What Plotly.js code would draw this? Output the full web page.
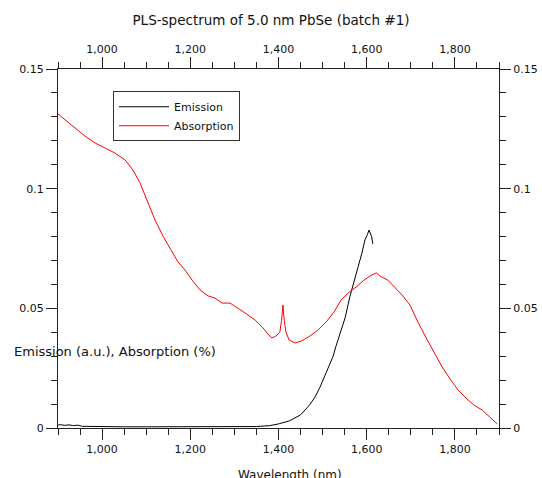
<!DOCTYPE html>
<html>
<head>
<meta charset="utf-8">
<script src="https://cdn.plot.ly/plotly-3.0.1.min.js"></script>
<style>html,body{margin:0;padding:0;background:#fff;}#chart{width:542px;height:478px;}</style>
</head>
<body>
<div id="chart"></div>
<script>
// Emission (a.u.) vs wavelength (nm)
const emissionWavelength = [900, 905, 915, 925, 935, 945, 955, 1000, 1050, 1100, 1150, 1200, 1250, 1300, 1350, 1380, 1400, 1425, 1450, 1470, 1483, 1494, 1505, 1517, 1524, 1530, 1540, 1551, 1562, 1569, 1580, 1589, 1596, 1602, 1605, 1608, 1611, 1614];
const emissionValue = [0.0012, 0.0014, 0.0011, 0.0013, 0.0010, 0.0012, 0.0007, 0.0005, 0.0005, 0.0005, 0.0005, 0.0005, 0.0005, 0.0006, 0.0006, 0.0010, 0.0017, 0.0030, 0.0055, 0.0095, 0.0130, 0.0170, 0.0220, 0.0270, 0.0300, 0.0340, 0.0400, 0.0460, 0.0550, 0.0600, 0.0670, 0.0730, 0.0786, 0.0810, 0.0827, 0.0815, 0.0800, 0.0769];

// Absorption (%) vs wavelength (nm)
const absorptionWavelength = [900, 916, 938, 961, 984, 1007, 1029, 1052, 1070, 1086, 1102, 1120, 1138, 1154, 1172, 1188, 1204, 1222, 1240, 1256, 1272, 1290, 1308, 1324, 1347, 1365, 1376, 1385, 1394, 1403, 1407, 1410, 1413, 1417, 1424, 1437, 1453, 1471, 1490, 1508, 1526, 1542, 1558, 1576, 1594, 1612, 1622, 1630, 1648, 1664, 1680, 1698, 1716, 1735, 1753, 1771, 1789, 1807, 1825, 1843, 1862, 1880, 1896];
const absorptionValue = [0.1312, 0.1287, 0.1254, 0.1220, 0.1191, 0.1170, 0.1149, 0.1120, 0.1078, 0.1024, 0.0953, 0.0869, 0.0802, 0.0752, 0.0694, 0.0660, 0.0618, 0.0577, 0.0552, 0.0543, 0.0522, 0.0522, 0.0501, 0.0481, 0.0451, 0.0418, 0.0393, 0.0376, 0.0384, 0.0400, 0.0450, 0.0514, 0.0450, 0.0400, 0.0368, 0.0355, 0.0364, 0.0384, 0.0410, 0.0443, 0.0485, 0.0535, 0.0564, 0.0589, 0.0618, 0.0640, 0.0648, 0.0635, 0.0618, 0.0589, 0.0556, 0.0514, 0.0443, 0.0376, 0.0318, 0.0255, 0.0205, 0.0159, 0.0125, 0.0096, 0.0075, 0.0046, 0.0017];

const xRange = [900, 1900];
const yRange = [0, 0.15];
const xTickStep = 200, xMinorStep = 50;
const yTickStep = 0.05, yMinorStep = 0.01;

const FONT = 'DejaVu Sans, Verdana, sans-serif';
const AX = '#222';

const traces = [
  {x: emissionWavelength, y: emissionValue, name: 'Emission', type: 'scatter', mode: 'lines',
   line: {color: '#000000', width: 1}, xaxis: 'x', yaxis: 'y'},
  {x: absorptionWavelength, y: absorptionValue, name: 'Absorption', type: 'scatter', mode: 'lines',
   line: {color: '#ff0000', width: 1}, xaxis: 'x2', yaxis: 'y2'}
];

function xAxis(side) {
  return {
    range: xRange, side: side, showgrid: false, zeroline: false,
    showline: true, linecolor: AX, linewidth: 1,
    ticks: 'outside', ticklen: 11, tickwidth: 1, tickcolor: AX,
    tick0: 0, dtick: xTickStep, tickformat: ',d',
    minor: {ticks: 'outside', ticklen: 6, tickcolor: AX, dtick: xMinorStep, tick0: 0, showgrid: false},
    tickfont: {family: FONT, size: 11, color: '#111'},
    fixedrange: true
  };
}
function yAxis(side) {
  return {
    range: yRange, side: side, showgrid: false, zeroline: false,
    showline: true, linecolor: AX, linewidth: 1,
    ticks: 'outside', ticklen: 11, tickwidth: 1, tickcolor: AX,
    tick0: 0, dtick: yTickStep,
    minor: {ticks: 'outside', ticklen: 6, tickcolor: AX, dtick: yMinorStep, tick0: 0, showgrid: false},
    tickfont: {family: FONT, size: 11, color: '#111'},
    fixedrange: true
  };
}

const xa2 = xAxis('top'); xa2.overlaying = 'x'; xa2.anchor = 'y2';
const ya2 = yAxis('right'); ya2.overlaying = 'y'; ya2.anchor = 'x2';
const xa = xAxis('bottom'); xa.anchor = 'y';
const ya = yAxis('left'); ya.anchor = 'x';

const layout = {
  width: 542, height: 478,
  margin: {l: 58, r: 43, t: 69, b: 50, pad: 0},
  paper_bgcolor: '#fff', plot_bgcolor: '#fff',
  font: {family: FONT, size: 11, color: '#111'},
  title: {text: 'PLS-spectrum of 5.0 nm PbSe (batch #1)', x: 0.5, xanchor: 'center', xref: 'container',
          y: 1 - 20/478, yref: 'container', yanchor: 'middle',
          font: {family: FONT, size: 13.5, color: '#111'}},
  xaxis: xa, yaxis: ya, xaxis2: xa2, yaxis2: ya2,
  showlegend: true,
  legend: {x: 0.1247, y: 0.938, xanchor: 'left', yanchor: 'top',
           bgcolor: '#fff', bordercolor: '#333', borderwidth: 1, itemwidth: 50,
           font: {family: FONT, size: 11, color: '#111'}, tracegroupgap: 0},
  annotations: [
    {text: 'Emission (a.u.), Absorption (%)', xref: 'paper', yref: 'paper',
     x: -0.104, y: 0.2117, xanchor: 'left', yanchor: 'middle', showarrow: false,
     font: {family: FONT, size: 13, color: '#111'}},
    {text: 'Wavelength (nm)', xref: 'paper', yref: 'paper',
     x: 0.526, y: -0.1058, xanchor: 'center', yanchor: 'top', showarrow: false,
     font: {family: FONT, size: 12, color: '#111'}}
  ]
};

Plotly.newPlot('chart', traces, layout, {displayModeBar: false, staticPlot: true});
</script>
</body>
</html>
